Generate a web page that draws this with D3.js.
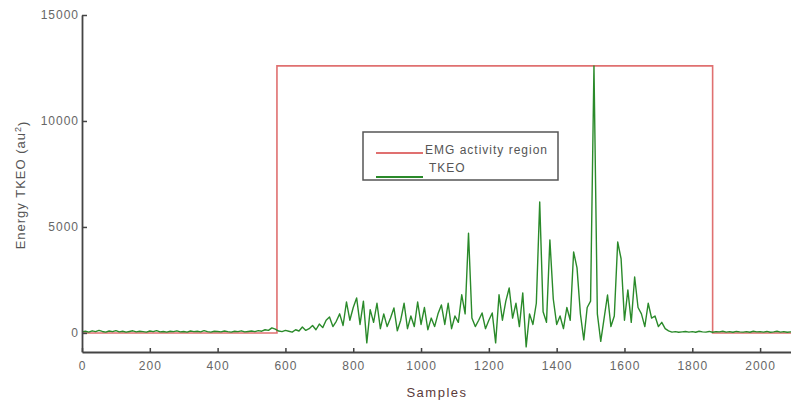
<!DOCTYPE html>
<html>
<head>
<meta charset="utf-8">
<script src="https://cdn.jsdelivr.net/npm/d3@7"></script>
<style>
  body { margin: 0; background: #fff; }
  .chart text { font-family: "Liberation Sans", Arial, sans-serif; }
</style>
</head>
<body>
<div class="chart"></div>
<script>
// TKEO energy, one value every 10 samples
var sampleStep = 10;
var tkeo = [
  50, 80, 40, 100, 60, 120, 70, 40, 90, 60,
  110, 50, 80, 40, 70, 100, 50, 80, 60, 40,
  90, 60, 110, 50, 70, 40, 80, 60, 100, 50,
  70, 40, 90, 60, 80, 50, 110, 60, 40, 80,
  70, 50, 90, 60, 40, 80, 60, 100, 50, 70,
  90, 60, 110, 80, 150, 120, 240, 180, 90, 60,
  120, 80, 40, 150, 90, 280, 120, 200, 350, 150,
  420, 250, 600, 750, 300, 550, 900, 350, 1460, 600,
  1200, 1650, 400, 1500, -470, 1100, 500, 1400, 200, 900,
  300, 700, 1180, 100, 600, 1400, 200, 800, 300, 1460,
  400, 1200, 150, 700, 300, 900, 1320, 400, 1400, 200,
  800, 500, 1800, 900, 4700, 700, 300, 600, 940, 200,
  600, 940, -470, 1800, 600, 1500, 2120, 700, 1400, 300,
  1890, -660, 900, 400, 1400, 6180, 1000, 500, 4390, 1600,
  400, 800, 200, 1200, 600, 3820, 3070, 900, -330, 1200,
  1500, 12600, 900, -400, 700, 1790, 300, 800, 4290, 3500,
  600, 2030, 500, 2640, 1200, 900, 300, 1400, 700, 800,
  300, 500, 200, 100, 40, 60, 30, 50, 70, 40,
  60, 30, 80, 50, 40, 70, 30, 60, 50, 80,
  40, 60, 30, 70, 50, 40, 60, 30, 80, 50,
  60, 40, 70, 30, 50, 80, 40, 60, 30, 50,
  60
];

// EMG activity region (step outline)
var regionSamples = [0, 575, 575, 1860, 1860, 2100];
var regionLevels  = [0, 0, 12600, 12600, 0, 0];

var xTicks = [0, 200, 400, 600, 800, 1000, 1200, 1400, 1600, 1800, 2000];
var yTicks = [0, 5000, 10000, 15000];

var legendLabels = ["EMG activity region", "TKEO"];
var colorsList = ["#e07070", "#2a8a2a"];

var width = 791, height = 405;

var svg = d3.select(".chart").append("svg")
  .attr("width", width)
  .attr("height", height);

var x = d3.scaleLinear().domain([0, 2100]).range([82, 794]);
var y = d3.scaleLinear().domain([-900, 15000]).range([352, 15]);

var line = d3.line()
  .x(function(d) { return x(d[0]); })
  .y(function(d) { return y(d[1]); });

// red region outline
var regionData = regionSamples.map(function(s, i) { return [s, regionLevels[i]]; });
svg.append("path")
  .datum(regionData)
  .attr("d", line)
  .attr("fill", "none")
  .attr("stroke", colorsList[0])
  .attr("stroke-width", 1.6);

// green TKEO
var tkeoData = tkeo.map(function(v, i) { return [i * sampleStep, v]; });
svg.append("path")
  .datum(tkeoData)
  .attr("d", line)
  .attr("fill", "none")
  .attr("stroke", colorsList[1])
  .attr("stroke-width", 1.4)
  .attr("stroke-linejoin", "round");

// axes
var xAxis = svg.append("g")
  .attr("transform", "translate(0," + y(-900) + ")")
  .call(d3.axisBottom(x).tickValues(xTicks).tickFormat(d3.format("d"))
    .tickSizeInner(-4).tickSizeOuter(0).tickPadding(9));

var yAxis = svg.append("g")
  .attr("transform", "translate(" + x(0) + ",0)")
  .call(d3.axisLeft(y).tickValues(yTicks).tickFormat(d3.format("d"))
    .tickSizeInner(-5).tickSizeOuter(0).tickPadding(3));

[xAxis, yAxis].forEach(function(a) {
  a.select(".domain").attr("stroke", "#444").attr("stroke-width", 1.8);
  a.selectAll(".tick line").attr("stroke", "#444").attr("stroke-width", 1.5);
  a.selectAll(".tick text")
    .attr("fill", "#666")
    .style("font-size", "12px")
    .style("letter-spacing", "1px");
});

// axis titles
svg.append("text")
  .attr("x", 437)
  .attr("y", 397)
  .attr("text-anchor", "middle")
  .attr("fill", "#5a3a3a")
  .style("font-size", "13px")
  .style("letter-spacing", "1.5px")
  .text("Samples");

svg.append("text")
  .attr("transform", "translate(25,185) rotate(-90)")
  .attr("text-anchor", "middle")
  .attr("fill", "#555")
  .style("font-size", "13px")
  .style("letter-spacing", "1px")
  .text("Energy TKEO (au")
  .append("tspan")
  .attr("dy", "-0.4em")
  .style("font-size", "9px")
  .text("2")
  .select(function() { return this.parentNode; })
  .append("tspan")
  .attr("dy", "0.4em")
  .text(")");

// legend
var legend = svg.append("g");
legend.append("rect")
  .attr("x", 363).attr("y", 132)
  .attr("width", 195).attr("height", 48)
  .attr("fill", "#fff")
  .attr("stroke", "#555")
  .attr("stroke-width", 1.5);

var legendY = [153, 177];
var textY = [150, 168];
legendLabels.forEach(function(label, i) {
  legend.append("line")
    .attr("x1", 376).attr("x2", 423)
    .attr("y1", legendY[i]).attr("y2", legendY[i])
    .attr("stroke", colorsList[i])
    .attr("stroke-width", 2);
  legend.append("text")
    .attr("x", i === 0 ? 425 : 429)
    .attr("y", textY[i])
    .attr("dy", "0.35em")
    .attr("fill", "#555")
    .style("font-size", "12px")
    .style("letter-spacing", "1px")
    .text(label);
});
</script>
</body>
</html>
